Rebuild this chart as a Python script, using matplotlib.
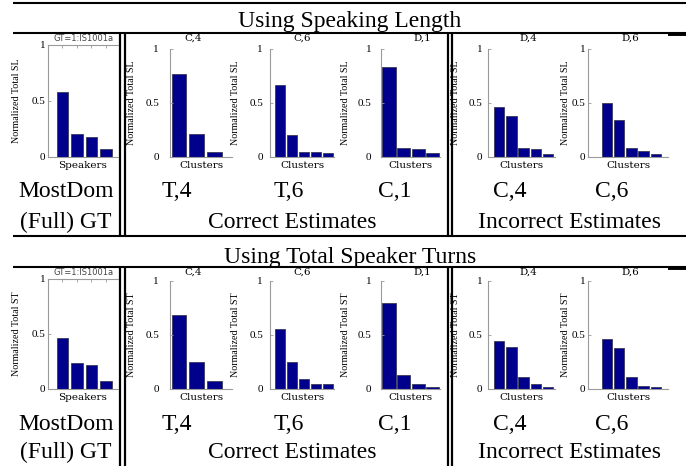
import numpy as np
import matplotlib
matplotlib.use('Agg')
import matplotlib.pyplot as plt

# bar heights
# row 1: normalized total speaking length, row 2: normalized total speaker turns
sl_gt = [0.574, 0.204, 0.177, 0.069]
sl_c4 = [0.768, 0.207, 0.040]
sl_c6 = [0.669, 0.204, 0.046, 0.040, 0.031]
sl_d1 = [0.836, 0.080, 0.071, 0.028]
sl_d4 = [0.461, 0.374, 0.081, 0.069, 0.025]
sl_d6 = [0.500, 0.343, 0.078, 0.053, 0.022]

st_gt = [0.465, 0.230, 0.218, 0.070]
st_c4 = [0.680, 0.250, 0.072]
st_c6 = [0.557, 0.248, 0.084, 0.046, 0.046]
st_d1 = [0.800, 0.124, 0.043, 0.015]
st_d4 = [0.443, 0.387, 0.108, 0.040, 0.012]
st_d6 = [0.464, 0.378, 0.108, 0.025, 0.012]

panel_titles = ['GT=1:IS1001a', 'C,4', 'C,6', 'D,1', 'D,4', 'D,6']
x_labels = ['Speakers', 'Clusters', 'Clusters', 'Clusters', 'Clusters', 'Clusters']
y_labels = ['Normalized Total SL', 'Normalized Total ST']
row_titles = ['Using Speaking Length', 'Using Total Speaker Turns']
col_names = ['MostDom', 'T,4', 'T,6', 'C,1', 'C,4', 'C,6']
group_names = ['(Full) GT', 'Correct Estimates', 'Incorrect Estimates']
ytick_vals = [0, 0.5, 1]
ytick_text = ['0', '0.5', '1']

rows = [[sl_gt, sl_c4, sl_c6, sl_d1, sl_d4, sl_d6],
        [st_gt, st_c4, st_c6, st_d1, st_d4, st_d6]]

# layout in pixels of the 686x466 picture
W, H = 686, 466
ax_left = [48, 170, 270, 381, 488, 588]
ax_right = [118, 232, 334, 440, 555, 668]
xlims = [(0.0, 4.83), (0.49, 4.0), (0.17, 5.5), (0.45, 4.5), (0.1, 5.57), (-0.56, 6.0)]
bar_w = [0.8, 0.82, 0.83, 0.9, 0.86, 0.86]
tick_pad = [2, 8, 5, 7, 4, 2]
ylab_x = [17, 132, 235, 345, 455, 565]
title_x = [84, 193.5, 302, 422, 528, 630]
name_x = [66, 177, 289, 395, 510, 612]
group_x = [66, 292, 570]

top_gt = [45, 279]
top_c = [49, 281]
bottom = [156.5, 388.5]
title_y = [38.5, 272.5]
xlab_y = [165, 398]
head_base = [27, 262.5]
base1 = [196.7, 430]
base2 = [227.7, 458.5]

bar_color = '#00008c'
spine_color = '#9a9a9a'
big_font = 'Liberation Serif'
small_font = 'DejaVu Serif'

fig = plt.figure(figsize=(W / 100, H / 100), dpi=100)

# background axes in pixel units for the table rules and labels
bg = fig.add_axes([0, 0, 1, 1])
bg.set_xlim(0, W)
bg.set_ylim(H, 0)
bg.axis('off')

# horizontal rules
for y in [3.3, 32.7, 236, 266.7]:
    bg.plot([12.7, W], [y, y], color='black', lw=1.5, solid_capstyle='butt')
for y in [32.7, 266.7]:
    bg.plot([668, W], [y + 0.8, y + 0.8], color='black', lw=2.8, solid_capstyle='butt')
# double vertical rules
for y0, y1 in [(32.7, 236), (266.7, H)]:
    for x in [119.5, 124.7, 447.7, 452.2]:
        bg.plot([x, x], [y0, y1], color='black', lw=1.6, solid_capstyle='butt')

for r in range(2):
    bg.text(350, head_base[r], row_titles[r], fontsize=17, family=big_font,
            ha='center', va='baseline')
    for i, name in enumerate(col_names):
        bg.text(name_x[i], base1[r], name, fontsize=17, family=big_font,
                ha='center', va='baseline')
    for i, name in enumerate(group_names):
        bg.text(group_x[i], base2[r], name, fontsize=17, family=big_font,
                ha='center', va='baseline')

    for i, vals in enumerate(rows[r]):
        top = top_gt[r] if i == 0 else top_c[r]
        l, rr, b = ax_left[i], ax_right[i], bottom[r]
        ax = fig.add_axes([l / W, 1 - b / H, (rr - l) / W, (b - top) / H])
        x = np.arange(1, len(vals) + 1)
        ax.bar(x, vals, width=bar_w[i], color=bar_color, edgecolor='#3a3a5a', linewidth=0.6)
        ax.set_xlim(*xlims[i])
        ax.set_ylim(0, 1)
        ax.patch.set_alpha(0)
        ax.set_yticks(ytick_vals)
        ax.set_yticklabels(ytick_text, family=big_font, fontsize=8)
        ax.tick_params(axis='y', direction='in', length=2, width=0.6,
                       color=spine_color, pad=tick_pad[i])
        ax.spines['right'].set_visible(False)
        for s in ['left', 'bottom', 'top']:
            ax.spines[s].set_color(spine_color)
            ax.spines[s].set_linewidth(0.8)
        if i == 0:
            ax.set_xticks(x)
            ax.set_xticklabels([])
            ax.tick_params(axis='x', direction='in', length=2, width=0.6,
                           color=spine_color, top=True, bottom=False)
        else:
            ax.spines['top'].set_visible(False)
            ax.set_xticks([])

        mid = (top + b) / 2
        bg.text(ylab_x[i], mid, y_labels[r], rotation=90, fontsize=7.2,
                family=big_font, ha='center', va='center')
        bg.text((l + rr) / 2, xlab_y[r], x_labels[i], fontsize=7.5,
                family=small_font, ha='center', va='center')
        if i == 0:
            bg.text(title_x[i], title_y[r], panel_titles[i], fontsize=6,
                    family='DejaVu Sans', color='#444444', ha='center', va='center')
        else:
            bg.text(title_x[i], title_y[r], panel_titles[i], fontsize=7.5,
                    family=small_font, ha='center', va='center')

fig.savefig('out.png', dpi=100)
